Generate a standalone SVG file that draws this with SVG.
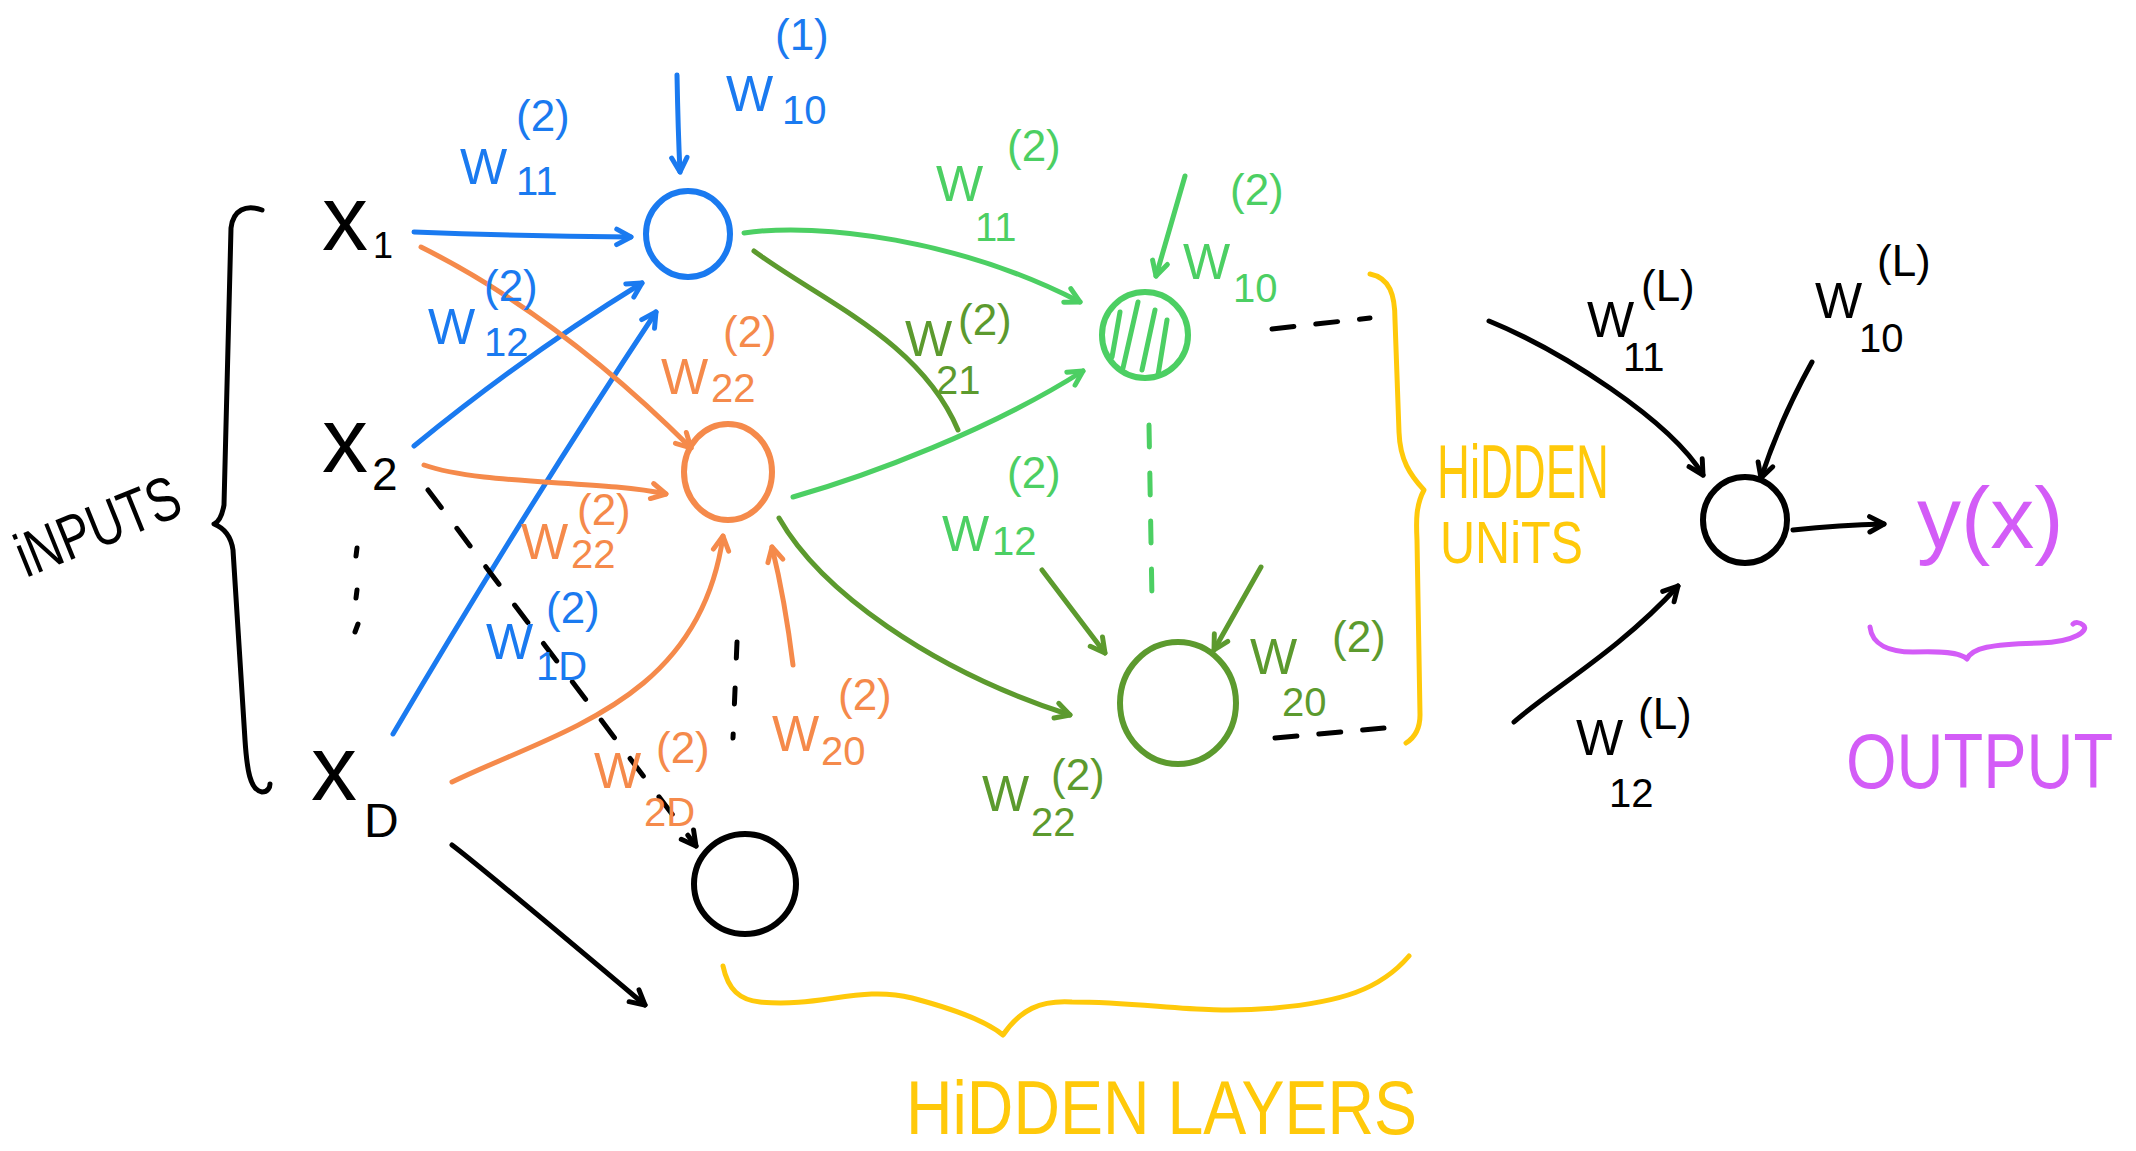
<svg xmlns="http://www.w3.org/2000/svg" width="2136" height="1151" viewBox="0 0 2136 1151">
<style>
text{font-family:"Liberation Sans",Arial,sans-serif;}
.ln{fill:none;stroke-width:5;stroke-linecap:round;stroke-linejoin:round;}
.nd{fill:none;stroke-width:6;}
.blue{stroke:#1a7af0;} .tblue{fill:#1a7af0;}
.orange{stroke:#f58a4b;} .torange{fill:#f58a4b;}
.lg{stroke:#4ccf63;} .tlg{fill:#4ccf63;}
.dg{stroke:#5c9a2e;} .tdg{fill:#5c9a2e;}
.blk{stroke:#000;} .tblk{fill:#000;}
.yel{stroke:#ffc90a;} .tyel{fill:#ffc90a;}
.pur{stroke:#d35cf7;} .tpur{fill:#d35cf7;}
.w{font-size:50px;} .s{font-size:40px;} .p{font-size:44px;}
.x{font-size:92px;}
.dash{stroke-dasharray:22 26;}
</style>
<defs>
<marker id="aBlue" viewBox="0 0 20 20" refX="17" refY="10" markerWidth="22" markerHeight="22" markerUnits="userSpaceOnUse" orient="auto"><path d="M4,3 L17,10 L4,17" fill="none" stroke="#1a7af0" stroke-width="4.5" stroke-linecap="round" stroke-linejoin="round"/></marker>
<marker id="aOr" viewBox="0 0 20 20" refX="17" refY="10" markerWidth="22" markerHeight="22" markerUnits="userSpaceOnUse" orient="auto"><path d="M4,3 L17,10 L4,17" fill="none" stroke="#f58a4b" stroke-width="4.5" stroke-linecap="round" stroke-linejoin="round"/></marker>
<marker id="aLg" viewBox="0 0 20 20" refX="17" refY="10" markerWidth="22" markerHeight="22" markerUnits="userSpaceOnUse" orient="auto"><path d="M4,3 L17,10 L4,17" fill="none" stroke="#4ccf63" stroke-width="4.5" stroke-linecap="round" stroke-linejoin="round"/></marker>
<marker id="aDg" viewBox="0 0 20 20" refX="17" refY="10" markerWidth="22" markerHeight="22" markerUnits="userSpaceOnUse" orient="auto"><path d="M4,3 L17,10 L4,17" fill="none" stroke="#5c9a2e" stroke-width="4.5" stroke-linecap="round" stroke-linejoin="round"/></marker>
<marker id="aBk" viewBox="0 0 20 20" refX="17" refY="10" markerWidth="22" markerHeight="22" markerUnits="userSpaceOnUse" orient="auto"><path d="M4,3 L17,10 L4,17" fill="none" stroke="#000" stroke-width="4.5" stroke-linecap="round" stroke-linejoin="round"/></marker>
</defs>
<rect width="2136" height="1151" fill="#fff"/>

<g id="connectors">
<path class="ln blue" d="M677,75 Q678,130 680,172" marker-end="url(#aBlue)"/>
<path class="ln blue" d="M414,232 Q520,236 631,237" marker-end="url(#aBlue)"/>
<path class="ln blue" d="M414,446 Q525,355 642,283" marker-end="url(#aBlue)"/>
<path class="ln blue" d="M393,734 Q525,510 656,312" marker-end="url(#aBlue)"/>
<path class="ln orange" d="M421,247 Q559,316 691,448" marker-end="url(#aOr)"/>
<path class="ln orange" d="M424,465 C480,485 600,480 666,494" marker-end="url(#aOr)"/>
<path class="ln orange" d="M452,782 C560,730 700,700 723,536" marker-end="url(#aOr)"/>
<path class="ln orange" d="M793,665 Q785,600 772,547" marker-end="url(#aOr)"/>
<path class="ln lg" d="M744,233 C820,222 960,240 1080,302" marker-end="url(#aLg)"/>
<path class="ln lg" d="M793,497 C870,475 990,430 1083,371" marker-end="url(#aLg)"/>
<path class="ln lg" d="M1185,176 L1156,276" marker-end="url(#aLg)"/>
<path class="ln lg dash" d="M1149,425 L1152,600"/>
<path class="ln dg" d="M754,251 C820,300 920,340 958,430"/>
<path class="ln dg" d="M1042,570 L1105,653" marker-end="url(#aDg)"/>
<path class="ln dg" d="M779,518 C820,590 930,670 1070,715" marker-end="url(#aDg)"/>
<path class="ln dg" d="M1261,567 L1214,650" marker-end="url(#aDg)"/>
<path class="ln blk dash" d="M428,490 L696,846" marker-end="url(#aBk)"/>
<path class="ln blk" d="M737,642 L733,738" stroke-dasharray="16 30"/>
<path class="ln blk" d="M452,845 Q480,866 645,1005" marker-end="url(#aBk)"/>
<path class="ln blk" d="M1272,329 L1370,318" stroke-dasharray="22 22"/>
<path class="ln blk" d="M1275,738 L1384,728" stroke-dasharray="22 22"/>
<path class="ln blk" d="M1489,321 C1560,350 1670,420 1703,475" marker-end="url(#aBk)"/>
<path class="ln blk" d="M1812,362 Q1780,420 1761,478" marker-end="url(#aBk)"/>
<path class="ln blk" d="M1514,722 C1550,690 1620,650 1678,586" marker-end="url(#aBk)"/>
<path class="ln blk" d="M1793,530 Q1840,525 1884,524" marker-end="url(#aBk)"/>
</g>

<g id="node-h1">
<ellipse class="nd blue" cx="688" cy="234" rx="42" ry="43"/>
</g>
<g id="node-h2">
<ellipse class="nd orange" cx="728" cy="472" rx="44" ry="48"/>
</g>
<g id="node-h3">
<ellipse class="nd blk" cx="745" cy="884" rx="51" ry="50"/>
</g>
<g id="node-bias2">
<ellipse class="nd lg" cx="1145" cy="335" rx="43" ry="43"/>
<path class="ln lg" d="M1120,312 L1112,357 M1138,302 L1123,368 M1155,310 L1142,370 M1167,320 L1158,375"/>
</g>
<g id="node-h22">
<ellipse class="nd dg" cx="1178" cy="703" rx="58" ry="61"/>
</g>
<g id="node-out">
<ellipse class="nd blk" cx="1745" cy="520" rx="42" ry="43"/>
</g>

<g id="inputs">
<text class="tblk"><tspan class="x" x="322" y="250">x</tspan><tspan x="373" y="258" font-size="36">1</tspan></text>
<text class="tblk"><tspan class="x" x="322" y="472">x</tspan><tspan x="372" y="490" font-size="46">2</tspan></text>
<text class="tblk"><tspan class="x" x="311" y="800">x</tspan><tspan x="364" y="837" font-size="48">D</tspan></text>
<path class="ln blk" d="M357,548 L356,556 M357,590 L356,598 M358,624 L355,632"/>
<path class="ln blk" d="M262,210 C246,204 233,210 231,228 L224,505 C222,516 219,522 214,524 C224,528 231,536 233,550 L245,740 C247,770 250,790 262,792 C268,792 270,787 270,784"/>
<text class="tblk" font-size="62" transform="translate(26,578) rotate(-22)" textLength="172" lengthAdjust="spacingAndGlyphs">iNPUTS</text>
</g>

<g id="labels">
<text class="tblue"><tspan class="w" x="726" y="111">W</tspan><tspan class="s" x="782" y="124">10</tspan><tspan class="p" x="775" y="50">(1)</tspan></text>
<text class="tblue"><tspan class="w" x="460" y="184">W</tspan><tspan class="s" x="516" y="195">11</tspan><tspan class="p" x="516" y="131">(2)</tspan></text>
<text class="tblue"><tspan class="w" x="428" y="344">W</tspan><tspan class="s" x="484" y="356">12</tspan><tspan class="p" x="484" y="301">(2)</tspan></text>
<text class="tblue"><tspan class="w" x="486" y="659">W</tspan><tspan class="s" x="536" y="680">1D</tspan><tspan class="p" x="546" y="623">(2)</tspan></text>
<text class="torange"><tspan class="w" x="661" y="394">W</tspan><tspan class="s" x="711" y="402">22</tspan><tspan class="p" x="723" y="347">(2)</tspan></text>
<text class="torange"><tspan class="w" x="521" y="559">W</tspan><tspan class="s" x="571" y="568">22</tspan><tspan class="p" x="577" y="525">(2)</tspan></text>
<text class="torange"><tspan class="w" x="594" y="788">W</tspan><tspan class="s" x="644" y="826">2D</tspan><tspan class="p" x="656" y="763">(2)</tspan></text>
<text class="torange"><tspan class="w" x="772" y="751">W</tspan><tspan class="s" x="821" y="765">20</tspan><tspan class="p" x="838" y="710">(2)</tspan></text>
<text class="tlg"><tspan class="w" x="936" y="201">W</tspan><tspan class="s" x="975" y="241">11</tspan><tspan class="p" x="1007" y="161">(2)</tspan></text>
<text class="tlg"><tspan class="w" x="1183" y="279">W</tspan><tspan class="s" x="1233" y="302">10</tspan><tspan class="p" x="1230" y="205">(2)</tspan></text>
<text class="tlg"><tspan class="w" x="942" y="551">W</tspan><tspan class="s" x="992" y="555">12</tspan><tspan class="p" x="1007" y="488">(2)</tspan></text>
<text class="tdg"><tspan class="w" x="905" y="356">W</tspan><tspan class="s" x="936" y="394">21</tspan><tspan class="p" x="958" y="335">(2)</tspan></text>
<text class="tdg"><tspan class="w" x="982" y="811">W</tspan><tspan class="s" x="1031" y="836">22</tspan><tspan class="p" x="1051" y="790">(2)</tspan></text>
<text class="tdg"><tspan class="w" x="1250" y="674">W</tspan><tspan class="s" x="1282" y="716">20</tspan><tspan class="p" x="1332" y="652">(2)</tspan></text>
<text class="tblk"><tspan class="w" x="1587" y="337">W</tspan><tspan class="s" x="1623" y="371">11</tspan><tspan class="p" x="1641" y="301">(L)</tspan></text>
<text class="tblk"><tspan class="w" x="1815" y="318">W</tspan><tspan class="s" x="1859" y="352">10</tspan><tspan class="p" x="1877" y="276">(L)</tspan></text>
<text class="tblk"><tspan class="w" x="1576" y="755">W</tspan><tspan class="s" x="1609" y="807">12</tspan><tspan class="p" x="1638" y="729">(L)</tspan></text>
</g>

<g id="hidden-units">
<path class="ln yel" d="M1370,274 C1390,278 1395,295 1395,320 L1399,432 C1400,460 1410,475 1424,490 C1416,505 1416,520 1417,540 L1420,715 C1420,730 1414,738 1406,743"/>
<text class="tyel" x="1437" y="498" font-size="76" textLength="172" lengthAdjust="spacingAndGlyphs">HiDDEN</text>
<text class="tyel" x="1440" y="563" font-size="60" textLength="143" lengthAdjust="spacingAndGlyphs">UNiTS</text>
</g>

<g id="hidden-layers">
<path class="ln yel" d="M723,966 C728,990 740,1000 760,1002 C820,1008 860,985 912,998 C950,1008 985,1020 1003,1035 C1020,1010 1040,1000 1072,1002 C1150,1002 1200,1015 1275,1008 C1340,1002 1380,990 1409,956"/>
<text class="tyel" x="906" y="1134" font-size="76" textLength="511" lengthAdjust="spacingAndGlyphs">HiDDEN LAYERS</text>
</g>

<g id="output">
<text class="tpur" x="1917" y="548" font-size="88">y(x)</text>
<path class="ln pur" d="M1870,627 C1872,645 1890,652 1913,652 C1940,651 1960,652 1967,659 C1972,648 1990,644 2040,643 C2075,642 2090,630 2083,625 C2080,622 2075,622 2073,624"/>
<text class="tpur" font-size="65" transform="translate(1846,788) scale(1,1.2)">OUTPUT</text>
</g>
</svg>
